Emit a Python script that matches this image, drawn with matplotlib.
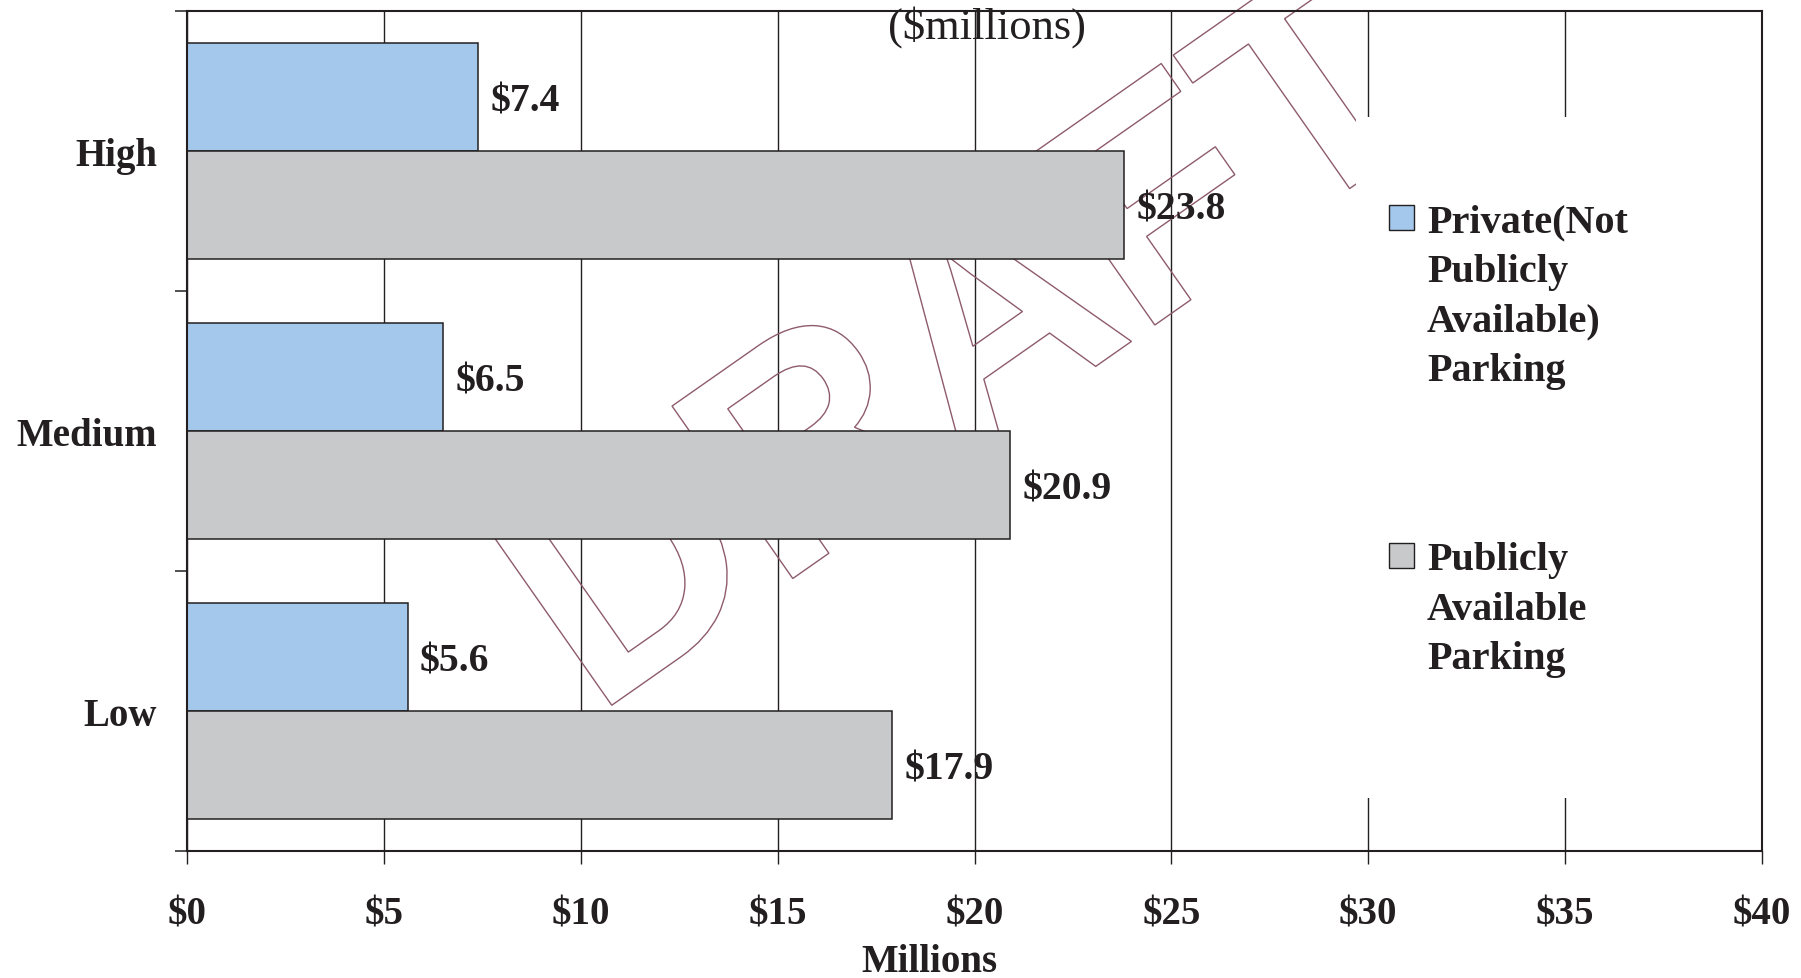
import numpy as np
import matplotlib
matplotlib.use("Agg")
import matplotlib.pyplot as plt
from matplotlib.patches import Rectangle, PathPatch
from matplotlib.textpath import TextPath
from matplotlib.font_manager import FontProperties
from matplotlib.transforms import Affine2D

# parking cost scenarios, $ millions
levels = ["Low", "Medium", "High"]
private_parking = [5.6, 6.5, 7.4]
public_parking = [17.9, 20.9, 23.8]
x_ticks = [0, 5, 10, 15, 20, 25, 30, 35, 40]
legend_labels = ["Private(Not\nPublicly\nAvailable)\nParking",
                 "Publicly\nAvailable\nParking"]

ink = "#231F20"
blue = "#A3C8EC"
grey = "#C8C9CB"

plt.rcParams["font.family"] = ["Liberation Serif", "DejaVu Serif"]
plt.rcParams["font.weight"] = "bold"

W, H = 1801, 979
fig = plt.figure(figsize=(W / 100, H / 100), dpi=100)
ax = fig.add_axes([187 / W, 1 - 852 / H, 1575 / W, 840 / H])

y = np.arange(len(levels))
h = 0.385
ax.barh(y + h / 2, private_parking, height=h, color=blue, edgecolor=ink,
        linewidth=1.1, zorder=2)
ax.barh(y - h / 2, public_parking, height=h, color=grey, edgecolor=ink,
        linewidth=1.1, zorder=2)

for yy, vals in ((y + h / 2, private_parking), (y - h / 2, public_parking)):
    for yi, v in zip(yy, vals):
        ax.annotate(f"${v:.1f}", (v, yi), xytext=(9, -3), textcoords="offset points",
                    ha="left", va="center", fontsize=28.5, color=ink, zorder=4)

ax.set_xlim(0, 40)
ax.set_ylim(-0.5, 2.5)

ax.set_xticks(x_ticks)
ax.set_xticklabels([f"${t}" for t in x_ticks])
ax.tick_params(axis="x", direction="out", length=9.4, width=1.0, color=ink,
               pad=23, labelsize=28, labelcolor=ink)

ax.set_yticks(y)
ax.set_yticklabels(levels)
ax.set_yticks([-0.5, 0.5, 1.5, 2.5], minor=True)
ax.tick_params(axis="y", which="major", length=0, pad=21.6, labelsize=28,
               labelcolor=ink)
ax.tick_params(axis="y", which="minor", length=8.6, width=1.1, color=ink,
               direction="out")

ax.grid(axis="x", color=ink, linewidth=1.0)
ax.set_axisbelow(True)
for s in ax.spines.values():
    s.set_color(ink)
    s.set_linewidth(1.5)

ax.set_xlabel("Millions", fontsize=28, fontweight="bold", color=ink)
ax.xaxis.set_label_coords(0.4717, -0.1095)

# DRAFT stamp, outlined letters
prop = FontProperties(family="Liberation Sans", weight="bold")
tp = TextPath((0, 0), "DRAFT", size=306, prop=prop)
stamp = PathPatch(tp, transform=Affine2D().rotate_deg(35).translate(595, H - 718),
                  facecolor="none", edgecolor="#8E5B6C", linewidth=1.0,
                  zorder=1, clip_on=False)
ax.add_artist(stamp)

ax.text(0.508, 0.969, "($millions)", transform=ax.transAxes, ha="center",
        va="baseline", fontsize=32, fontweight="normal", color=ink, zorder=3)

# legend panel
ax.add_patch(Rectangle((0.742, 0.063), 0.2535, 0.811, transform=ax.transAxes,
                       facecolor="white", edgecolor="none", zorder=1.5))
handle_y = [0.7393, 0.3369]
text_y = [0.7714, 0.369]
for col, lab, hy, ty in zip([blue, grey], legend_labels, handle_y, text_y):
    ax.add_patch(Rectangle((0.7632, hy), 0.0159, 0.0298, transform=ax.transAxes,
                           facecolor=col, edgecolor=ink, linewidth=1.0, zorder=3))
    ax.text(0.7873, ty, lab, transform=ax.transAxes, ha="left", va="top",
            fontsize=29, color=ink, linespacing=1.45, zorder=3)

fig.savefig("out.png", dpi=100)
